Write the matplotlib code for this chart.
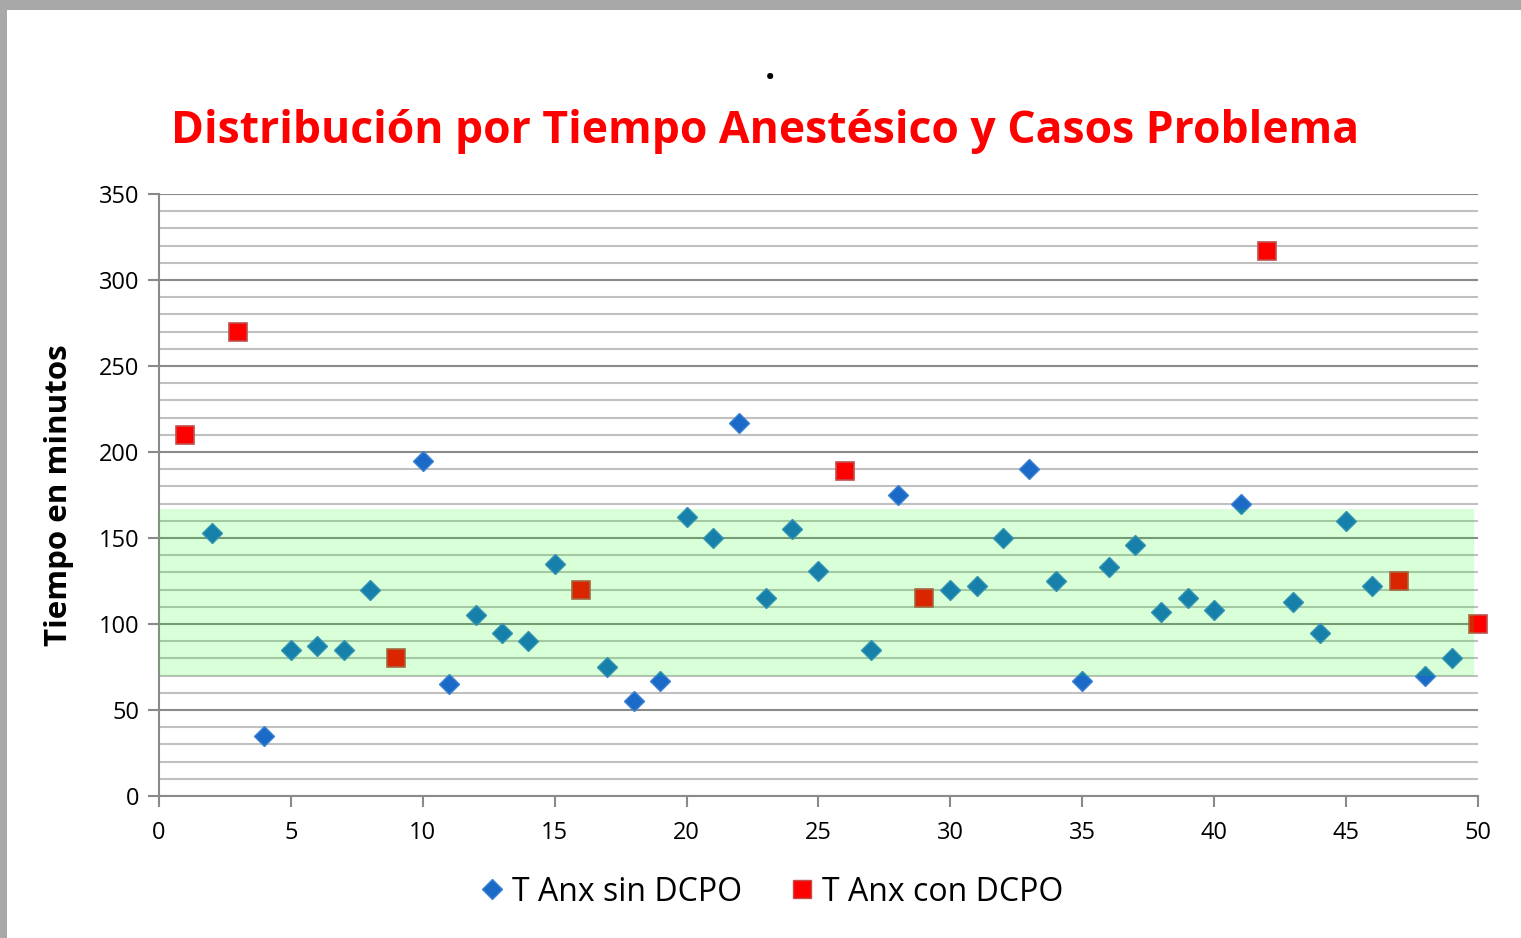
import numpy as np
import matplotlib
matplotlib.use("Agg")
import matplotlib.pyplot as plt
from matplotlib.patches import Rectangle
from matplotlib.lines import Line2D

# datos
x_sin = [2, 4, 5, 6, 7, 8, 10, 11, 12, 13, 14, 15, 17, 18, 19, 20, 21, 22, 23, 24,
         25, 27, 28, 30, 31, 32, 33, 34, 35, 36, 37, 38, 39, 40, 41, 43, 44, 45, 46, 48, 49]
y_sin = [153, 35, 85, 87, 85, 120, 195, 65, 105, 95, 90, 135, 75, 55, 67, 162, 150, 217, 115, 155,
         131, 85, 175, 120, 122, 150, 190, 125, 67, 133, 146, 107, 115, 108, 170, 113, 95, 160, 122, 70, 80]

x_con = [1, 3, 9, 16, 26, 29, 42, 47, 50]
y_con = [210, 270, 80, 120, 189, 115, 317, 125, 100]

banda = (70, 167)   # rango normal sombreado

titulo = "Distribución por Tiempo Anestésico y Casos Problema"
etiqueta_y = "Tiempo en minutos"
leyenda = ["T Anx sin DCPO", "T Anx con DCPO"]

plt.rcParams['font.family'] = ['Open Sans', 'DejaVu Sans']

fig = plt.figure(figsize=(15.21, 9.38), dpi=100)
ax = fig.add_axes([0.1045, 0.1514, 0.9717 - 0.1045, 0.7932 - 0.1514])

azul = '#1B6AC8'
rojo = '#FF0000'

ax.plot(x_sin, y_sin, linestyle='none', marker='D', markersize=10.5,
        markerfacecolor=azul, markeredgecolor='#3C82D2', markeredgewidth=1,
        zorder=3, clip_on=False)
ax.plot(x_con, y_con, linestyle='none', marker='s', markersize=13.5,
        markerfacecolor=rojo, markeredgecolor='#C0504D', markeredgewidth=1.2,
        zorder=3, clip_on=False)

# banda verde por encima de los puntos (semitransparente)
ax.axhspan(banda[0], banda[1], xmin=0, xmax=49.85 / 50, facecolor=(0, 1, 0),
           alpha=0.15, edgecolor='none', zorder=4)

ax.set_xlim(0, 50)
ax.set_ylim(0, 350)
ax.set_xticks(np.arange(0, 51, 5))
ax.set_yticks(np.arange(0, 351, 50))
ax.set_yticks(np.arange(0, 351, 10), minor=True)
ax.grid(axis='y', which='major', color='#8a8a8a', linewidth=1.5, zorder=1)
ax.grid(axis='y', which='minor', color='#c0c0c0', linewidth=1.5, zorder=1)
ax.set_axisbelow(True)

for s in ['top', 'right']:
    ax.spines[s].set_visible(False)
for s in ['left', 'bottom']:
    ax.spines[s].set_color('#8a8a8a')
    ax.spines[s].set_linewidth(1.5)

ax.tick_params(axis='both', which='major', direction='out', length=8, width=1.5,
               color='#8a8a8a', labelsize=17, pad=6)
ax.tick_params(axis='y', which='minor', length=0)
ax.tick_params(axis='x', pad=10)

ax.set_ylabel(etiqueta_y, fontsize=22.5, fontweight='bold', labelpad=18)

fig.text(0.503, 0.860, titulo, color='red', fontsize=32, fontweight='bold',
         ha='center', va='center')
fig.text(0.506, 0.925, '.', color='black', fontsize=26, fontweight='bold',
         ha='center', va='center')

handles = [Line2D([], [], linestyle='none', marker='D', markersize=10.5,
                  markerfacecolor=azul, markeredgecolor='#3C82D2'),
           Line2D([], [], linestyle='none', marker='s', markersize=13.5,
                  markerfacecolor=rojo, markeredgecolor='#C0504D')]
fig.legend(handles, leyenda, loc='center', bbox_to_anchor=(0.506, 0.049), ncol=2,
           frameon=False, fontsize=23, handletextpad=0.1, columnspacing=1.4,
           handlelength=1.0)

# marco gris de la captura
fig.patches.append(Rectangle((0, 1 - 10 / 938), 1, 10 / 938, transform=fig.transFigure,
                             facecolor='#a8a8a8', edgecolor='none', zorder=10))
fig.patches.append(Rectangle((0, 0), 7 / 1521, 1, transform=fig.transFigure,
                             facecolor='#a8a8a8', edgecolor='none', zorder=10))

fig.savefig('out.png', dpi=100)
